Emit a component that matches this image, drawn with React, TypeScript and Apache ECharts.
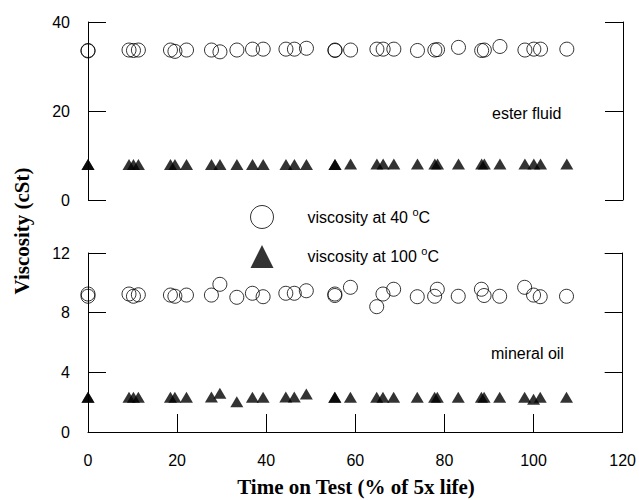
import React, { useEffect, useRef } from "react";
import * as echarts from "echarts";

// Time on test (% of 5x life) – shared by all series
const timeOnTest = [
  0, 0, 9.2, 10.2, 11.3, 18.5, 19.5, 22.1, 27.7, 29.6, 33.4, 36.9, 39.3, 44.4, 46.3, 49.0,
  55.4, 55.4, 58.9, 64.8, 66.2, 68.6, 73.9, 77.8, 78.4, 83.1, 88.3, 88.9, 92.4, 98.0, 100.0,
  101.5, 107.4,
];

// Ester fluid
const ester40 = [
  33.5, 33.6, 33.7, 33.6, 33.7, 33.7, 33.4, 33.7, 33.7, 33.3, 33.7, 33.9, 33.9, 33.9, 33.9,
  34.1, 33.6, 33.7, 33.7, 33.9, 33.9, 33.9, 33.6, 33.7, 33.8, 34.3, 33.6, 33.7, 34.5, 33.7,
  33.9, 33.9, 33.9,
];
const ester100 = [
  8.0, 8.0, 8.0, 8.0, 8.0, 8.0, 8.0, 8.0, 8.0, 8.0, 8.0, 8.0, 8.0, 8.0, 8.0, 8.0, 8.0, 8.0,
  8.1, 8.1, 8.1, 8.1, 8.1, 8.1, 8.1, 8.1, 8.1, 8.1, 8.1, 8.1, 8.1, 8.1, 8.1,
];

// Mineral oil
const mineral40 = [
  9.1, 9.25, 9.25, 9.1, 9.2, 9.18, 9.1, 9.18, 9.18, 9.9, 9.03, 9.3, 9.07, 9.3, 9.3, 9.47,
  9.15, 9.25, 9.7, 8.4, 9.25, 9.57, 9.07, 9.1, 9.57, 9.1, 9.57, 9.15, 9.1, 9.7, 9.18, 9.07, 9.1,
];
const mineral100 = [
  2.33, 2.33, 2.33, 2.33, 2.33, 2.33, 2.33, 2.33, 2.35, 2.6, 2.03, 2.33, 2.33, 2.35, 2.35,
  2.55, 2.33, 2.33, 2.33, 2.33, 2.33, 2.33, 2.33, 2.33, 2.33, 2.33, 2.33, 2.33, 2.33, 2.33,
  2.2, 2.33, 2.33,
];

const xTicks = { min: 0, max: 120, interval: 20 };
const esterTicks = { min: 0, max: 40, interval: 20 };
const mineralTicks = { min: 0, max: 12, interval: 4 };

const name40 = "viscosity at 40 °C";
const name100 = "viscosity at 100 °C";

const pair = (xs: number[], ys: number[]) => xs.map((x, i) => [x, ys[i]]);

export default function App() {
  const ref = useRef<HTMLDivElement>(null);
  useEffect(() => {
    if (!ref.current) return;
    const chart = echarts.init(ref.current, undefined, { renderer: "svg" });
    const lineStyle = { color: "#000", width: 1 };
    const yAxisCommon = (grid: number, ticks: any, pos: "left" | "right") => ({
      type: "value",
      gridIndex: grid,
      position: pos,
      min: ticks.min,
      max: ticks.max,
      interval: ticks.interval,
      axisLine: { show: true, onZero: false, lineStyle },
      axisTick: { show: true, inside: true, length: 18, lineStyle },
      axisLabel: {
        show: pos === "left",
        color: "#000",
        fontSize: 16,
        fontFamily: "Liberation Sans",
        margin: 18,
      },
      splitLine: { show: false },
    });
    const circleStyle = { color: "transparent", borderColor: "#000", borderWidth: 1 };
    const triStyle = { color: "#000" };
    chart.setOption({
      animation: false,
      textStyle: { fontFamily: "Liberation Sans" },
      grid: [
        { left: 88, right: 16, top: 22, height: 178 },
        { left: 88, right: 16, top: 253, height: 179 },
      ],
      xAxis: [
        { type: "value", gridIndex: 0, ...xTicks, show: false },
        {
          type: "value",
          gridIndex: 1,
          ...xTicks,
          axisLine: { show: true, onZero: false, lineStyle },
          axisTick: { show: true, inside: true, length: 18, lineStyle },
          axisLabel: { color: "#000", fontSize: 16, fontFamily: "Liberation Sans", margin: 20 },
          splitLine: { show: false },
        },
      ],
      yAxis: [
        yAxisCommon(0, esterTicks, "left"),
        yAxisCommon(0, esterTicks, "right"),
        yAxisCommon(1, mineralTicks, "left"),
        yAxisCommon(1, mineralTicks, "right"),
      ],
      legend: {
        orient: "vertical",
        left: 245,
        top: 200,
        itemWidth: 23,
        itemHeight: 23,
        itemGap: 16,
        data: [
          { name: name40, icon: "circle", itemStyle: circleStyle },
          { name: name100, icon: "triangle", itemStyle: triStyle },
        ],
        formatter: (n: string) =>
          n === name40 ? "{g|}{t|viscosity at 40 }{s|o}{t|C}" : "{g|}{t|viscosity at 100 }{s|o}{t|C}",
        textStyle: {
          rich: {
            g: { width: 29 },
            t: { fontSize: 16, color: "#000", fontFamily: "Liberation Sans", lineHeight: 22 },
            s: { fontSize: 11, color: "#000", fontFamily: "Liberation Sans", verticalAlign: "top", lineHeight: 11 },
          },
        },
      },
      series: [
        {
          type: "scatter",
          name: name40,
          xAxisIndex: 0,
          yAxisIndex: 0,
          symbol: "circle",
          symbolSize: 14,
          itemStyle: circleStyle,
          data: pair(timeOnTest, ester40),
        },
        {
          type: "scatter",
          name: name100,
          xAxisIndex: 0,
          yAxisIndex: 0,
          symbol: "triangle",
          symbolSize: [13, 11],
          itemStyle: triStyle,
          data: pair(timeOnTest, ester100),
        },
        {
          type: "scatter",
          name: name40,
          xAxisIndex: 1,
          yAxisIndex: 2,
          symbol: "circle",
          symbolSize: 14,
          itemStyle: circleStyle,
          data: pair(timeOnTest, mineral40),
        },
        {
          type: "scatter",
          name: name100,
          xAxisIndex: 1,
          yAxisIndex: 2,
          symbol: "triangle",
          symbolSize: [13, 11],
          itemStyle: triStyle,
          data: pair(timeOnTest, mineral100),
        },
      ],
      graphic: [
        {
          type: "text",
          x: 22,
          y: 231,
          rotation: Math.PI / 2,
          style: {
            text: "Viscosity (cSt)",
            font: "bold 21px 'Liberation Serif'",
            fill: "#000",
            align: "center",
            verticalAlign: "middle",
          },
        },
        {
          type: "text",
          x: 356,
          y: 487,
          style: {
            text: "Time on Test (% of 5x life)",
            font: "bold 21px 'Liberation Serif'",
            fill: "#000",
            align: "center",
            verticalAlign: "middle",
          },
        },
        {
          type: "text",
          x: 492,
          y: 113,
          style: {
            text: "ester fluid",
            font: "16px 'Liberation Sans'",
            fill: "#000",
            align: "left",
            verticalAlign: "middle",
          },
        },
        {
          type: "text",
          x: 491,
          y: 353,
          style: {
            text: "mineral oil",
            font: "16px 'Liberation Sans'",
            fill: "#000",
            align: "left",
            verticalAlign: "middle",
          },
        },
      ],
    });
    return () => chart.dispose();
  }, []);
  return (
    <div
      ref={ref}
      style={{ position: "absolute", left: 0, top: 0, width: 639, height: 500, background: "#fff" }}
    />
  );
}
